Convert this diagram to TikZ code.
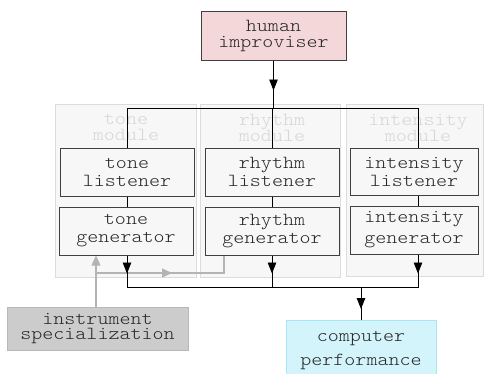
\documentclass[tikz,border=0pt]{standalone}
\usepackage{fontspec}
\setmainfont{lmmonolt10-regular.otf}[FakeStretch=1.14]
\usetikzlibrary{arrows.meta}
\definecolor{modfill}{HTML}{F7F7F7}
\definecolor{modline}{HTML}{DCDCDC}
\definecolor{modtext}{HTML}{D6D6D6}
\definecolor{boxline}{HTML}{404040}
\definecolor{humfill}{HTML}{F4D7D9}
\definecolor{perffill}{HTML}{D4F4FC}
\definecolor{perfline}{HTML}{A6E8F8}
\definecolor{instfill}{HTML}{CCCCCC}
\definecolor{instline}{HTML}{B8B8B8}
\definecolor{feedgray}{HTML}{B4B4B4}
\tikzset{
  txt/.style={font=\fontsize{18.4}{17}\selectfont, align=center, text=black!85},
  modbox/.style={draw=modline, fill=modfill, line width=0.9pt, inner sep=0pt},
  modlabel/.style={font=\fontsize{18.4}{16}\selectfont, align=center, text=modtext, inner sep=0pt},
  unitbox/.style={txt, draw=boxline, fill=modfill, line width=1pt, inner sep=0pt},
  wire/.style={line width=0.9pt, black},
  arr/.style={wire, -{Triangle[length=11pt,width=8.5pt]}},
  gwire/.style={line width=1.2pt, feedgray},
  garr/.style={gwire, -{Triangle[length=10pt,width=9pt]}},
}
\begin{document}
\begin{tikzpicture}[x=1pt,y=-1pt]
\useasboundingbox (0,0) rectangle (484,373);

% module frames
\node[modbox, minimum width=141pt, minimum height=173pt] (tonemod) at (125.5,190.5) {};
\node[modbox, minimum width=140pt, minimum height=173pt] (rhymod) at (270,190.5) {};
\node[modbox, minimum width=137pt, minimum height=172pt] (intmod) at (414.5,190.5) {};
\node[modlabel] (tonelab) at (126,127.5) {tone\\module};
\node[modlabel] (rhylab) at (272,127.5) {rhythm\\module};
\node[modlabel] (intlab) at (418,127.5) {intensity\\module};

% input
\node[txt, draw=boxline, fill=humfill, line width=1pt, inner sep=0pt,
      font=\fontsize{18.4}{16}\selectfont,
      minimum width=145pt, minimum height=49pt] (hum) at (273.5,35.5) {human\\improviser};

% listeners and generators
\node[unitbox, minimum width=134pt, minimum height=48pt, font=\fontsize{18.4}{18}\selectfont] (tl) at (127,172) {tone\\listener};
\node[unitbox, minimum width=134pt, minimum height=48pt, font=\fontsize{18.4}{18}\selectfont] (rl) at (272,172) {rhythm\\listener};
\node[unitbox, minimum width=128pt, minimum height=47pt, font=\fontsize{18.4}{18}\selectfont] (il) at (414,171.5) {intensity\\listener};
\node[unitbox, minimum width=134pt, minimum height=48pt, font=\fontsize{18.4}{18}\selectfont] (tg) at (126,231) {tone\\generator};
\node[unitbox, minimum width=134pt, minimum height=48pt, font=\fontsize{18.4}{18}\selectfont] (rg) at (272,231) {rhythm\\generator};
\node[unitbox, minimum width=128pt, minimum height=48pt, font=\fontsize{18.4}{21}\selectfont] (ig) at (414,230) {intensity\\generator};

% outputs
\node[txt, draw=perfline, fill=perffill, line width=1pt, inner sep=0pt,
      font=\fontsize{18.4}{24}\selectfont,
      minimum width=150pt, minimum height=62pt] (perf) at (361,351) {computer\\performance};
\node[txt, draw=instline, fill=instfill, line width=1pt, inner sep=0pt,
      font=\fontsize{18.4}{15}\selectfont,
      minimum width=181pt, minimum height=43pt] (inst) at (97.5,328.5) {instrument\\specialization};

% bus levels
\coordinate (topbus) at (0,108);
\coordinate (botbus) at (0,287);

% improviser feeds every listener
\draw[arr] (hum.south) -- ++(0,30);
\draw[wire] (hum.south) -- (hum.south |- topbus);
\draw[wire] ([xshift=0pt]tl.north) -- (tl.north |- topbus) -- ([xshift=4pt]il.north |- topbus) -- ([xshift=4pt]il.north);
\draw[wire] (rl.north) -- (rl.north |- topbus);

% listener to generator
\draw[wire] (tl.south) -- (tl.south |- tg.north);
\draw[wire] (rl.south) -- (rl.south |- rg.north);
\draw[wire] ([xshift=4pt]il.south) -- ([xshift=4pt]il.south |- ig.north);

% instrument specialization feeds the generators
\draw[garr] ([xshift=-1.5pt]inst.north) -- ([xshift=-1.5pt]inst.north |- tg.south);
\draw[gwire] ([xshift=-1.5pt]inst.north |- 0,273) -- ([xshift=-48pt]rg.south |- 0,273) -- ([xshift=-48pt]rg.south);
\draw[garr] ([xshift=-1.5pt]inst.north |- 0,273) -- (172,273);

% generators to the output bus
\draw[arr] ([xshift=1pt]tg.south) -- ++(0,18);
\draw[arr] (rg.south) -- ++(0,18);
\draw[arr] ([xshift=4pt]ig.south) -- ++(0,19);
\draw[wire] ([xshift=1pt]tg.south) -- ([xshift=1pt]tg.south |- botbus) -- ([xshift=4pt]ig.south |- botbus) -- ([xshift=4pt]ig.south);
\draw[wire] (rg.south) -- (rg.south |- botbus);
\draw[arr] (perf.north |- botbus) -- ++(0,22);
\draw[wire] (perf.north |- botbus) -- (perf.north);
\end{tikzpicture}
\end{document}
